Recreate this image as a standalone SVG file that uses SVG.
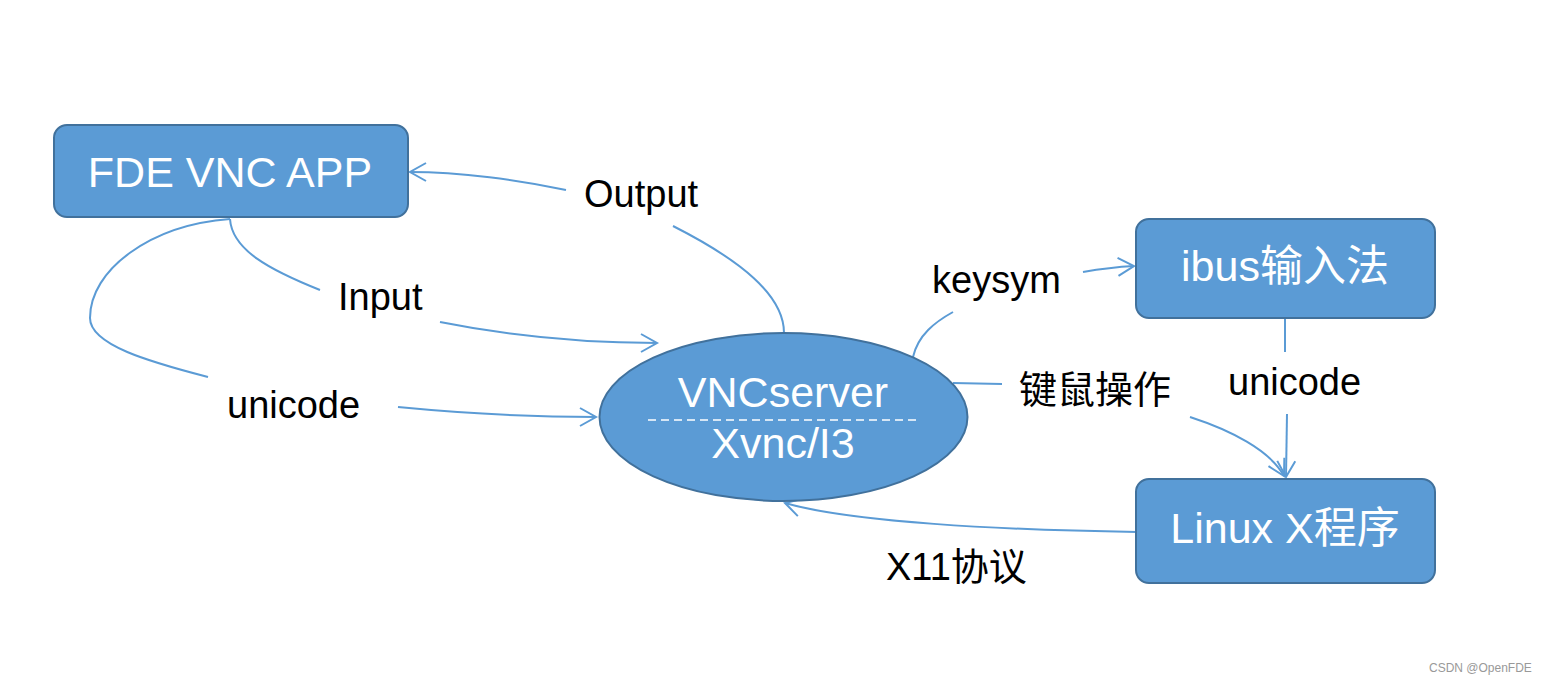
<svg xmlns="http://www.w3.org/2000/svg" width="1544" height="684" viewBox="0 0 1544 684">
<style>
.node{fill:#5B9BD5;stroke:#41719C;stroke-width:2}
.nt{fill:#fff;font-family:"Liberation Sans","Noto Sans CJK SC",sans-serif;font-size:43px;text-anchor:middle}
.lbl{fill:#000;font-family:"Liberation Sans","Noto Sans CJK SC",sans-serif;font-size:38px}
.c{fill:none;stroke:#5B9BD5;stroke-width:2}
.a{marker-end:url(#arr)}
</style>
<defs>
<marker id="arr" markerUnits="userSpaceOnUse" markerWidth="40" markerHeight="40" viewBox="-20 -20 40 40" refX="0" refY="0" orient="auto" overflow="visible">
<path d="M-16,-9 L0,0 L-16,9" fill="none" stroke="#5B9BD5" stroke-width="2"/>
</marker>
</defs>
<rect width="1544" height="684" fill="#fff"/>
<g id="connectors">
<path class="c a" d="M566,190 C520,180 460,172 410,172"/>
<path class="c" d="M673,226 C740,260 784,295 784,333"/>
<path class="c" d="M230,219 C232,250 270,270 320,290"/>
<path class="c a" d="M440,322 C520,338 590,343 657,343"/>
<path class="c" d="M230,219 C150,225 90,270 90,318 C90,345 150,362 208,377"/>
<path class="c a" d="M398,407 C470,414 530,417 596,417"/>
<path class="c" d="M913,357 C918,335 935,322 953,312"/>
<path class="c a" d="M1083,272 C1100,269 1115,267 1134,266"/>
<path class="c" d="M953,383 L1002,384"/>
<path class="c a" d="M1190,417 C1230,430 1270,450 1284,476"/>
<path class="c" d="M1285,318 L1285,352"/>
<path class="c a" d="M1287,414 L1286,477"/>
<path class="c a" d="M1137,532 C1000,530 850,522 785,503"/>
</g>
<g id="fde">
<rect class="node" x="54" y="125" width="354" height="92" rx="13"/>
<text class="nt" x="230" y="187">FDE VNC APP</text>
</g>
<g id="vncserver">
<ellipse class="node" cx="783.5" cy="417" rx="184" ry="84"/>
<text class="nt" x="783" y="407">VNCserver</text>
<line x1="648" y1="420" x2="920" y2="420" stroke="#fff" stroke-width="1.5" stroke-dasharray="8,5"/>
<text class="nt" x="783" y="458">Xvnc/I3</text>
</g>
<g id="ibus">
<rect class="node" x="1136" y="219" width="299" height="99" rx="13"/>
<text class="nt" x="1285" y="281">ibus输入法</text>
</g>
<g id="linuxx">
<rect class="node" x="1136" y="479" width="299" height="104" rx="13"/>
<text class="nt" x="1285" y="543">Linux X程序</text>
</g>
<g id="labels">
<text class="lbl" x="584" y="207">Output</text>
<text class="lbl" x="338" y="310">Input</text>
<text class="lbl" x="227" y="418">unicode</text>
<text class="lbl" x="932" y="293">keysym</text>
<text class="lbl" x="1019" y="403">键鼠操作</text>
<text class="lbl" x="1228" y="395">unicode</text>
<text class="lbl" x="886" y="580">X11协议</text>
</g>
<text x="1429" y="672" fill="#999" font-family="'Liberation Sans',sans-serif" font-size="12">CSDN @OpenFDE</text>
</svg>
